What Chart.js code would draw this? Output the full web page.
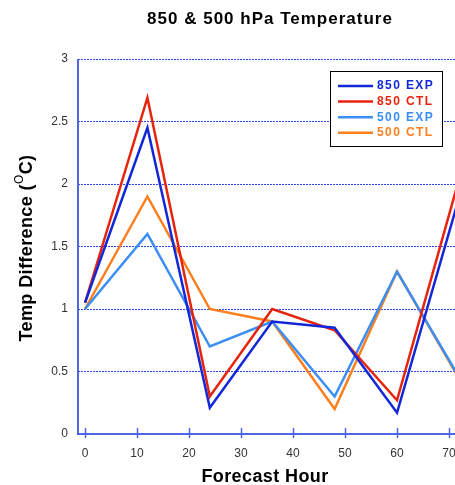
<!DOCTYPE html>
<html>
<head>
<meta charset="utf-8">
<script src="https://cdn.jsdelivr.net/npm/chart.js@4.4.1/dist/chart.umd.min.js"></script>
<style>
  html, body { margin: 0; padding: 0; background: #fff; }
  #wrap { position: relative; width: 455px; height: 485px; }
</style>
</head>
<body>
<div id="wrap"><canvas id="chart"></canvas></div>
<script>
// forecast hours and temperature differences
const hours = [0, 12, 24, 36, 48, 60, 72];
const exp850 = [1.05, 2.45, 0.21, 0.90, 0.85, 0.17, 1.90];
const ctl850 = [1.05, 2.69, 0.30, 1.00, 0.83, 0.27, 2.05];
const exp500 = [1.00, 1.60, 0.70, 0.90, 0.30, 1.30, 0.45];
const ctl500 = [1.00, 1.90, 1.00, 0.90, 0.20, 1.30, 0.44];
const xTicks = [0, 10, 20, 30, 40, 50, 60, 70];

const seriesNames = ['850 EXP', '850 CTL', '500 EXP', '500 CTL'];
const seriesColors = ['#1228d8', '#e8230c', '#3a8ef4', '#ff7f1e'];
const seriesValues = [exp850, ctl850, exp500, ctl500];

const axisBlue = '#4f64e6';
const font = '"Liberation Sans", Arial, sans-serif';

const toPoints = (vals) => hours.map((h, i) => ({ x: h, y: vals[i] }));

const extrasPlugin = {
  id: 'extras',
  afterDatasetsDraw(chart) {
    const { ctx, chartArea } = chart;
    const xs = chart.scales.x;
    ctx.save();
    ctx.strokeStyle = axisBlue;

    // solid left axis
    ctx.lineWidth = 2;
    ctx.beginPath();
    ctx.moveTo(chartArea.left, chartArea.top);
    ctx.lineTo(chartArea.left, chartArea.bottom + 1);
    ctx.stroke();

    // x tick marks crossing the axis
    ctx.lineWidth = 1.5;
    xTicks.forEach((t) => {
      const px = Math.round(xs.getPixelForValue(t)) + 0.5;
      ctx.beginPath();
      ctx.moveTo(px, chartArea.bottom - 6);
      ctx.lineTo(px, chartArea.bottom + 4);
      ctx.stroke();
    });
    ctx.restore();
  },
  afterDraw(chart) {
    const { ctx } = chart;
    ctx.save();

    // title
    ctx.fillStyle = '#000';
    ctx.textAlign = 'center';
    ctx.textBaseline = 'middle';
    ctx.letterSpacing = '1px';
    ctx.font = `bold 17px ${font}`;
    ctx.fillText('850 & 500 hPa Temperature', 270, 19);

    // x axis title
    ctx.letterSpacing = '0.4px';
    ctx.font = `bold 18px ${font}`;
    ctx.fillText('Forecast Hour', 265, 477);

    // y axis title with superscript O
    ctx.save();
    ctx.translate(27, 248);
    ctx.rotate(-Math.PI / 2);
    ctx.textAlign = 'left';
    const main = 'Temp Difference (';
    ctx.font = `bold 18px ${font}`;
    const w1 = ctx.measureText(main).width;
    ctx.font = `12px ${font}`;
    const w2 = ctx.measureText('O').width;
    ctx.font = `bold 18px ${font}`;
    const w3 = ctx.measureText('C)').width;
    const total = w1 + w2 + w3;
    const x0 = -total / 2;
    ctx.fillText(main, x0, 0);
    ctx.font = `12px ${font}`;
    ctx.fillText('O', x0 + w1, -7);
    ctx.font = `bold 18px ${font}`;
    ctx.fillText('C)', x0 + w1 + w2, 0);
    ctx.restore();

    // legend box
    const lx = 330, ly = 71, lw = 112, lh = 75;
    ctx.fillStyle = '#fff';
    ctx.fillRect(lx, ly, lw, lh);
    ctx.strokeStyle = '#000';
    ctx.lineWidth = 1;
    ctx.strokeRect(lx + 0.5, ly + 0.5, lw, lh);
    ctx.letterSpacing = '1.4px';
    ctx.font = `bold 12px ${font}`;
    ctx.textAlign = 'left';
    seriesNames.forEach((name, i) => {
      const yy = ly + 15 + i * 15.6;
      ctx.strokeStyle = seriesColors[i];
      ctx.lineWidth = 2.5;
      ctx.beginPath();
      ctx.moveTo(lx + 8, yy);
      ctx.lineTo(lx + 43, yy);
      ctx.stroke();
      ctx.fillStyle = seriesColors[i];
      ctx.fillText(name, lx + 47, yy);
    });

    ctx.restore();
  }
};

new Chart(document.getElementById('chart'), {
  type: 'line',
  data: {
    datasets: seriesNames.map((name, i) => ({
      label: name,
      data: toPoints(seriesValues[i]),
      borderColor: seriesColors[i],
      backgroundColor: seriesColors[i],
      borderWidth: 2.5,
      pointRadius: 0,
      tension: 0,
      fill: false
    }))
  },
  options: {
    responsive: true,
    maintainAspectRatio: false,
    animation: false,
    layout: { padding: { top: 59, right: 0, left: 0, bottom: 0 } },
    plugins: {
      legend: { display: false },
      title: { display: false },
      tooltip: { enabled: false }
    },
    scales: {
      x: {
        type: 'linear',
        min: -1.35,
        max: 71.15,
        afterBuildTicks(scale) { scale.ticks = xTicks.map((v) => ({ value: v })); },
        afterFit(scale) {
          scale.height = 51;
          scale.paddingLeft = 0;
          scale.paddingRight = 0;
        },
        grid: { display: false },
        border: { display: true, color: axisBlue, width: 2 },
        ticks: { color: '#333', font: { family: font, size: 12 }, padding: 4, maxRotation: 0 }
      },
      y: {
        min: 0,
        max: 3,
        afterFit(scale) {
          scale.width = 78;
          scale.paddingTop = 0;
          scale.paddingBottom = 0;
        },
        grid: {
          color: '#2a44ee',
          lineWidth: 1,
          drawTicks: false
        },
        border: { display: false, dash: [2, 1] },
        ticks: {
          stepSize: 0.5,
          color: '#333',
          font: { family: font, size: 12 },
          padding: 10,
          callback: (v) => String(v)
        }
      }
    }
  },
  plugins: [extrasPlugin]
});
</script>
</body>
</html>
